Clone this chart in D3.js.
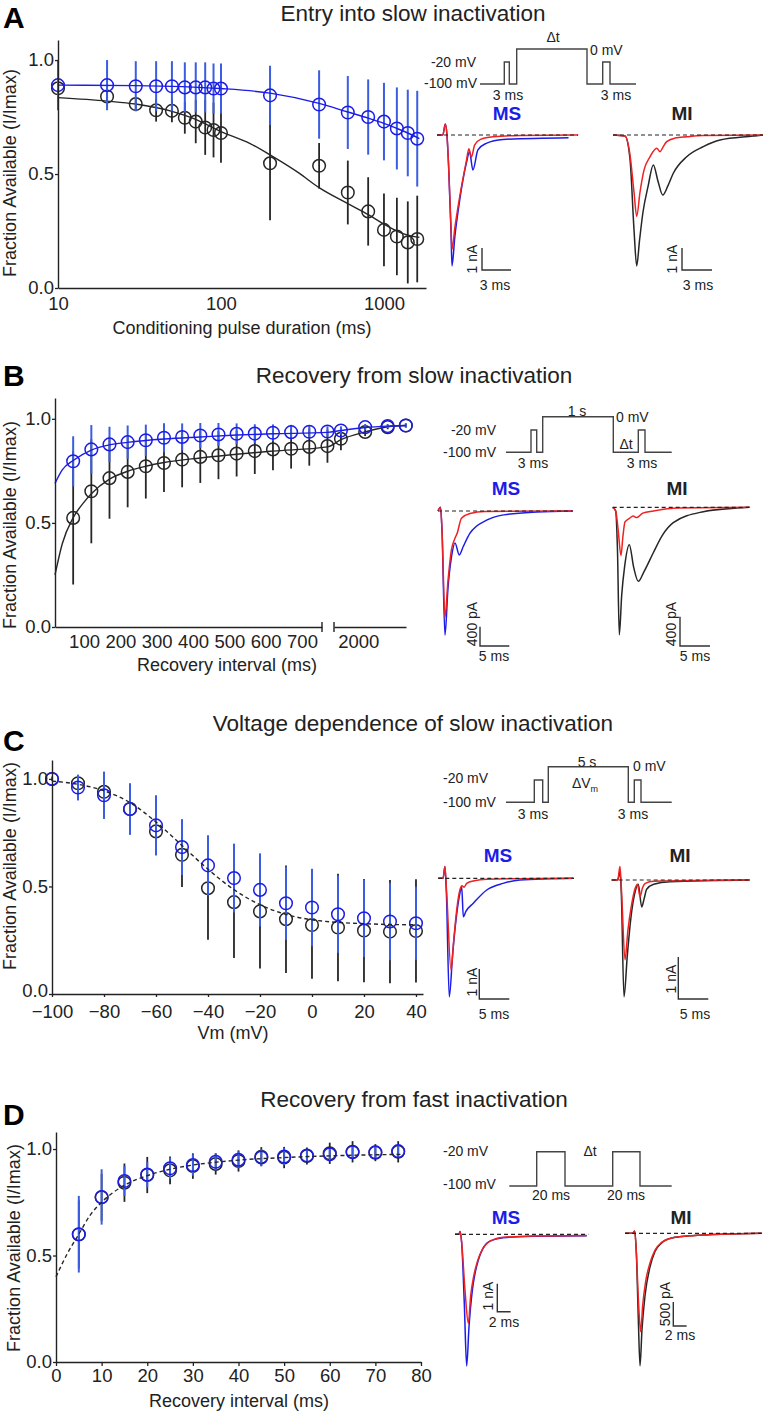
<!DOCTYPE html>
<html>
<head>
<meta charset="utf-8">
<script src="https://cdn.jsdelivr.net/npm/d3@7"></script>
<style>
body { margin: 0; background: #fff; }
svg { display: block; font-family: "Liberation Sans", Arial, sans-serif; }
</style>
</head>
<body>
<svg id="fig" width="766" height="1415"></svg>
<script>
// ---------- data ----------
// A: entry into slow inactivation
var aDur = [10, 20, 30, 40, 50, 60, 70, 80, 90, 100, 200, 400, 600, 800, 1000, 1200, 1400, 1600];
var aMS = [0.89, 0.89, 0.885, 0.885, 0.885, 0.88, 0.88, 0.88, 0.875, 0.875, 0.845, 0.805, 0.77, 0.75, 0.73, 0.70, 0.68, 0.655];
var aMSerr = [0.11, 0.11, 0.11, 0.11, 0.11, 0.11, 0.11, 0.11, 0.11, 0.11, 0.13, 0.15, 0.16, 0.165, 0.17, 0.18, 0.19, 0.21];
var aMI = [0.876, 0.84, 0.807, 0.78, 0.777, 0.747, 0.73, 0.704, 0.693, 0.68, 0.547, 0.536, 0.419, 0.336, 0.255, 0.226, 0.20, 0.215];
var aMIerr = [0.01, 0.02, 0.03, 0.05, 0.05, 0.07, 0.095, 0.12, 0.12, 0.13, 0.25, 0.1, 0.14, 0.15, 0.16, 0.17, 0.18, 0.19];
var aFitMS = [[10, 0.89], [30, 0.888], [100, 0.875], [200, 0.855], [400, 0.81], [600, 0.772], [800, 0.745], [1000, 0.722], [1200, 0.70], [1400, 0.68], [1650, 0.655]];
var aFitMI = [[10, 0.835], [20, 0.82], [30, 0.807], [50, 0.775], [70, 0.74], [100, 0.686], [150, 0.635], [200, 0.584], [300, 0.505], [400, 0.44], [600, 0.37], [800, 0.322], [1000, 0.28], [1200, 0.25], [1400, 0.232], [1650, 0.222]];

// B: recovery from slow inactivation
var bInt = [70, 120, 170, 220, 270, 320, 370, 420, 470, 520, 570, 620, 670, 720, 770, 1000, 2400, 3700, 4750];
var bMS = [0.796, 0.853, 0.877, 0.888, 0.897, 0.909, 0.913, 0.92, 0.925, 0.928, 0.929, 0.933, 0.936, 0.938, 0.939, 0.944, 0.96, 0.965, 0.968];
var bMSerr = [0.12, 0.117, 0.085, 0.08, 0.075, 0.07, 0.065, 0.06, 0.055, 0.05, 0.045, 0.04, 0.035, 0.03, 0.025, 0.02, 0.015, 0.01, 0.01];
var bMI = [0.524, 0.652, 0.715, 0.745, 0.772, 0.788, 0.804, 0.817, 0.825, 0.833, 0.845, 0.853, 0.856, 0.865, 0.869, 0.904, 0.937, 0.96, 0.968];
var bMIerr = [0.32, 0.25, 0.195, 0.17, 0.155, 0.14, 0.133, 0.125, 0.115, 0.11, 0.11, 0.1, 0.095, 0.09, 0.08, 0.055, 0.02, 0.01, 0.01];
var bFitMS = [[20, 0.69], [40, 0.755], [70, 0.80], [120, 0.85], [170, 0.875], [220, 0.887], [320, 0.903], [420, 0.913], [520, 0.922], [620, 0.928], [770, 0.935], [1000, 0.944], [2400, 0.958], [3700, 0.965], [4760, 0.968]];
var bFitMI = [[20, 0.25], [40, 0.40], [70, 0.525], [100, 0.60], [120, 0.64], [170, 0.71], [220, 0.748], [270, 0.772], [320, 0.79], [420, 0.812], [520, 0.83], [620, 0.845], [770, 0.865], [1000, 0.90], [2400, 0.937], [3700, 0.962], [4760, 0.968]];
var bTicks1 = [100, 200, 300, 400, 500, 600, 700];
var bTicks2 = [2000];

// C: voltage dependence of slow inactivation
var cVm = [-100, -90, -80, -70, -60, -50, -40, -30, -20, -10, 0, 10, 20, 30, 40];
var cMS = [1.0, 0.96, 0.924, 0.86, 0.784, 0.683, 0.598, 0.539, 0.484, 0.422, 0.402, 0.371, 0.352, 0.337, 0.329];
var cMSerr = [0.01, 0.06, 0.11, 0.12, 0.14, 0.13, 0.14, 0.16, 0.17, 0.17, 0.18, 0.18, 0.18, 0.18, 0.17];
var cMI = [1.0, 0.98, 0.94, 0.86, 0.756, 0.647, 0.492, 0.427, 0.384, 0.348, 0.321, 0.309, 0.295, 0.29, 0.293];
var cMIerr = [0.01, 0.03, 0.03, 0.03, 0.05, 0.15, 0.24, 0.26, 0.265, 0.25, 0.25, 0.25, 0.24, 0.24, 0.24];
var cFit = [[-100, 0.99], [-90, 0.975], [-80, 0.945], [-70, 0.89], [-60, 0.80], [-50, 0.69], [-40, 0.58], [-30, 0.485], [-20, 0.415], [-10, 0.37], [0, 0.345], [10, 0.333], [20, 0.327], [30, 0.323], [40, 0.322]];
var cTicks = [-100, -80, -60, -40, -20, 0, 20, 40];

// D: recovery from fast inactivation
var dInt = [5, 10, 15, 20, 25, 30, 35, 40, 45, 50, 55, 60, 65, 70, 75];
var dMS = [0.60, 0.775, 0.85, 0.88, 0.91, 0.925, 0.94, 0.95, 0.96, 0.965, 0.97, 0.975, 0.985, 0.985, 0.99];
var dMSerr = [0.18, 0.13, 0.07, 0.06, 0.05, 0.05, 0.04, 0.04, 0.04, 0.04, 0.03, 0.03, 0.03, 0.03, 0.03];
var dMI = [0.599, 0.773, 0.842, 0.878, 0.90, 0.92, 0.93, 0.944, 0.964, 0.96, 0.967, 0.98, 0.987, 0.983, 0.987];
var dMIerr = [0.16, 0.11, 0.09, 0.085, 0.065, 0.06, 0.05, 0.05, 0.045, 0.05, 0.04, 0.05, 0.05, 0.04, 0.05];
var dFit = [[0, 0.40], [2.5, 0.51], [5, 0.60], [7.5, 0.69], [10, 0.75], [15, 0.83], [20, 0.875], [25, 0.905], [30, 0.925], [35, 0.938], [40, 0.948], [50, 0.96], [60, 0.968], [70, 0.973], [76, 0.975]];
var dTicks = [0, 10, 20, 30, 40, 50, 60, 70, 80];

// voltage protocols (schematic step durations and levels in mV)
var protoAdur = [24.3, 5, 7.4, 70.3, 15.7, 7.3, 26];
var protoBdur = [25, 5.7, 6, 70.6, 25, 6.7, 26.7];
var protoCdur = [28.3, 8.4, 5.6, 80, 6, 6.7, 30.7];
var protoSlowLvl = [-100, -20, -100, 0, -100, -20, -100];
var protoDdur = [27.4, 28.3, 47.7, 27.3, 31.7];
var protoDlvl = [-100, -20, -100, -20, -100];

// example current traces, [time ms, current nA]
var trA_MS_blue = [[0, 0], [0.6, 0], [0.86, 0.5], [1.03, 0], [1.2, -1.4], [1.45, -4.4], [1.55, -5.95], [1.85, -4.6], [2.35, -2.95], [3.03, -1.29], [3.37, -0.76], [3.71, -1.59], [4.23, -0.68], [5.09, -0.38], [6.82, -0.2], [13.6, -0.12]];
var trA_MS_red = [[0, 0], [0.6, 0], [0.86, 0.5], [1.03, 0], [1.2, -1.4], [1.45, -4.2], [1.55, -5.2], [1.85, -4.2], [2.35, -2.8], [3.03, -1.2], [3.3, -0.62], [3.55, -1.0], [3.9, -0.45], [4.5, -0.2], [5.8, -0.08], [8.6, -0.02], [14.6, 0]];
var trA_MI_black = [[0, 0], [1.2, -0.05], [1.7, -1.1], [2.1, -4.3], [2.37, -5.95], [2.65, -4.8], [3.0, -3.5], [3.5, -2.35], [4.03, -1.36], [4.5, -2.1], [4.97, -2.73], [5.5, -2.3], [6.03, -1.74], [7.37, -0.99], [9.03, -0.53], [10.7, -0.23], [14.03, -0.05], [15, 0]];
var trA_MI_red = [[0, 0], [1.2, -0.05], [1.7, -0.9], [2.1, -2.6], [2.37, -3.7], [2.7, -2.6], [3.1, -1.6], [3.7, -0.99], [4.37, -0.6], [4.7, -0.76], [5.0, -0.55], [5.37, -0.3], [6.2, -0.14], [7.37, -0.08], [9, -0.02], [15, 0]];
var trB_MS_blue = [[0, 0], [0.43, 0.08], [0.68, -0.39], [1.19, -2.57], [1.7, -1.6], [2.3, -0.95], [2.9, -0.66], [3.63, -0.91], [4.33, -0.73], [5.46, -0.46], [8.3, -0.19], [11.2, -0.08], [16.9, -0.02], [23, 0]];
var trB_MS_red = [[0, 0], [0.43, 0.08], [0.68, -0.39], [1.19, -2.2], [1.7, -1.45], [2.3, -0.8], [2.78, -0.6], [3.3, -0.45], [4.0, -0.15], [5.46, -0.05], [8, -0.01], [23, 0]];
var trB_MI_black = [[0, 0], [0.5, -0.05], [0.8, -0.6], [1.1, -1.74], [1.5, -1.2], [2.0, -0.8], [2.77, -0.51], [3.5, -0.82], [4.27, -1.01], [5.2, -0.88], [6.77, -0.62], [8.3, -0.38], [10.1, -0.21], [15.1, -0.06], [20.7, -0.01], [22.8, 0]];
var trB_MI_red = [[0, 0], [0.5, -0.05], [0.9, -0.3], [1.38, -0.66], [1.7, -0.4], [2.05, -0.2], [2.8, -0.15], [3.4, -0.12], [4.0, -0.14], [5.0, -0.08], [6.77, -0.05], [11, -0.01], [22.8, 0]];
var trC_MS_blue = [[0, 0], [0.8, 0], [1.1, 0.39], [1.35, -0.5], [1.83, -3.95], [2.4, -2.5], [3.0, -1.3], [3.6, -0.5], [3.9, -0.28], [4.17, -1.28], [4.6, -1.1], [5.83, -0.83], [8.07, -0.39], [10.8, -0.17], [13.6, -0.06], [22.5, 0]];
var trC_MS_red = [[0, 0], [0.8, 0], [1.1, 0.39], [1.4, -0.5], [2.12, -3.06], [2.6, -2.0], [3.1, -1.0], [3.6, -0.39], [3.95, -0.25], [4.3, -0.3], [4.73, -0.17], [6, -0.08], [8.07, -0.03], [22.5, 0]];
var trC_MI_black = [[0, 0], [1.0, 0], [1.38, 0.2], [1.6, -0.3], [2.05, -2.78], [2.6, -1.8], [3.2, -0.9], [3.8, -0.35], [4.43, -0.1], [5.0, -0.64], [5.4, -0.45], [5.83, -0.22], [7, -0.1], [9.7, -0.04], [23, 0]];
var trC_MI_red = [[0, 0], [1.0, 0], [1.38, 0.32], [1.65, -0.3], [2.22, -1.9], [2.7, -1.2], [3.3, -0.6], [3.9, -0.2], [4.3, -0.1], [4.72, -0.4], [5.1, -0.2], [5.6, -0.08], [7, -0.03], [23, 0]];
var trD_MS_blue = [[0, 0], [0.6, 0], [0.75, 0.1], [1.0, -0.3], [1.4, -2.5], [1.75, -4.7], [2.1, -3.3], [2.6, -2.0], [3.0, -1.4], [3.5, -0.92], [4.1, -0.55], [4.75, -0.32], [6, -0.18], [7.75, -0.11], [12, -0.07], [19.75, -0.05]];
var trD_MS_red = [[0, 0], [0.6, 0], [0.75, 0.1], [1.0, -0.3], [1.5, -2.0], [2.0, -3.18], [2.35, -2.2], [2.8, -1.5], [3.2, -1.1], [3.6, -0.8], [4.2, -0.5], [4.9, -0.3], [6, -0.17], [7.75, -0.1], [12, -0.06], [19.75, -0.04]];
var trD_MI_black = [[0, 0], [1.2, 0], [1.45, 0.05], [1.7, -0.4], [2.0, -1.8], [2.25, -2.76], [2.55, -2.0], [3.0, -1.3], [3.75, -0.7], [4.5, -0.38], [5.5, -0.2], [7, -0.1], [10, -0.05], [20.5, 0]];
var trD_MI_red = [[0, 0], [1.2, 0], [1.45, 0.05], [1.7, -0.4], [2.05, -1.5], [2.35, -2.05], [2.65, -1.5], [3.1, -1.0], [3.75, -0.62], [4.5, -0.35], [5.5, -0.19], [7, -0.1], [10, -0.05], [20.5, 0]];

// ---------- drawing ----------
var BLUE = "#1c1ce8", BLUEBAR = "#3a5de2", BLK = "#262626", RED = "#ee2222";
var svg = d3.select("#fig");

function txt(x, y, s, size, anchor, weight, fill) {
  return svg.append("text").attr("x", x).attr("y", y).text(s)
    .attr("font-size", size).attr("text-anchor", anchor || "start")
    .attr("font-weight", weight || "normal").attr("fill", fill || "#222");
}
function vtxt(x, y, s, size) {
  return svg.append("text").attr("transform", "translate(" + x + "," + y + ") rotate(-90)")
    .attr("text-anchor", "middle").attr("dominant-baseline", "central")
    .attr("font-size", size).attr("fill", "#222").text(s);
}
function styleAxis(ax, fs) {
  ax.attr("font-family", null).attr("font-size", null);
  ax.select(".domain").attr("stroke", "#222").attr("stroke-width", 1.4);
  ax.selectAll(".tick line").attr("stroke", "#222").attr("stroke-width", 1.3);
  ax.selectAll("text").attr("fill", "#222").style("font-size", fs || "18.5px");
}
function yAxis(y, x0) {
  var ax = svg.append("g").attr("transform", "translate(" + x0 + ",0)")
    .call(d3.axisLeft(y).tickValues([0, 0.5, 1]).tickFormat(d3.format(".1f"))
      .tickSizeInner(3).tickSizeOuter(0).tickPadding(1));
  styleAxis(ax);
  return ax;
}
function series(xf, y, xs, ys, es, col, barCol, bw) {
  svg.append("g").selectAll("line").data(xs).enter().append("line")
    .attr("x1", function(d) { return xf(d); }).attr("x2", function(d) { return xf(d); })
    .attr("y1", function(d, i) { return y(ys[i] - es[i]); })
    .attr("y2", function(d, i) { return y(ys[i] + es[i]); })
    .attr("stroke", barCol).attr("stroke-width", bw || 2);
  svg.append("g").selectAll("circle").data(xs).enter().append("circle")
    .attr("cx", function(d) { return xf(d); }).attr("cy", function(d, i) { return y(ys[i]); })
    .attr("r", 6.3).attr("fill", "none").attr("stroke", col).attr("stroke-width", 1.5);
}
function fit(xf, y, pts, col, dash) {
  svg.append("path").datum(pts)
    .attr("d", d3.line().x(function(d) { return xf(d[0]); }).y(function(d) { return y(d[1]); }).curve(d3.curveMonotoneX))
    .attr("fill", "none").attr("stroke", col).attr("stroke-width", 1.4)
    .attr("stroke-dasharray", dash || null);
}
function protocol(dur, lvl, xr, yr) {
  var x = d3.scaleLinear().domain([0, d3.sum(dur)]).range(xr);
  var y = d3.scaleOrdinal().domain([-100, -20, 0]).range(yr);
  var pts = [], t = 0;
  dur.forEach(function(d, i) { pts.push([t, lvl[i]]); t += d; pts.push([t, lvl[i]]); });
  svg.append("path").attr("d", d3.line().x(function(p) { return x(p[0]); }).y(function(p) { return y(p[1]); })(pts))
    .attr("fill", "none").attr("stroke", "#444").attr("stroke-width", 1.4);
}
function frameScales(f) {
  return {
    x: d3.scaleLinear().domain([0, 1]).range([f.x0, f.x0 + f.pxMs]),
    y: d3.scaleLinear().domain([0, -1]).range([f.y0, f.y0 + f.pxNA])
  };
}
function trace(f, pts, col) {
  var s = frameScales(f);
  svg.append("path").datum(pts)
    .attr("d", d3.line().x(function(p) { return s.x(p[0]); }).y(function(p) { return s.y(p[1]); }).curve(d3.curveMonotoneX))
    .attr("fill", "none").attr("stroke", col).attr("stroke-width", 1.5);
}
function baseline(f) {
  svg.append("line").attr("x1", f.x0).attr("x2", f.end).attr("y1", f.y0).attr("y2", f.y0)
    .attr("stroke", "#222").attr("stroke-width", 1.2).attr("stroke-dasharray", "4,3");
}
function scaleBar(f, bx, by, ms, nA, vlab, vx, vy, hlab, hx, hy) {
  svg.append("path")
    .attr("d", "M" + bx + "," + (by - f.pxNA * nA) + "V" + by + "H" + (bx + f.pxMs * ms))
    .attr("fill", "none").attr("stroke", "#333").attr("stroke-width", 1.4);
  vtxt(vx, vy, vlab, "14px");
  txt(hx, hy, hlab, "14px", "middle");
}

// ===== Panel A =====
txt(3, 28, "A", "30px", "start", "bold", "#000");
txt(413, 21, "Entry into slow inactivation", "22.5px", "middle");
var xA = d3.scaleLog().domain([10, 1811]).range([58, 426]);
var yA = d3.scaleLinear().domain([0, 1.088]).range([288, 40]);
series(xA, yA, aDur, aMI, aMIerr, BLK, BLK, 1.8);
fit(xA, yA, aFitMI, BLK);
series(xA, yA, aDur, aMS, aMSerr, BLUE, BLUEBAR, 2);
fit(xA, yA, aFitMS, BLUE);
var axA = svg.append("g").attr("transform", "translate(0,288)")
  .call(d3.axisBottom(xA).tickValues([10, 100, 1000]).tickFormat(d3.format("d")).tickSize(0).tickPadding(9));
styleAxis(axA);
yAxis(yA, 58);
vtxt(10, 173, "Fraction Available (I/Imax)", "18px");
txt(242, 334, "Conditioning pulse duration (ms)", "18px", "middle");

protocol(protoAdur, protoSlowLvl, [480, 636], [84, 62, 49]);
txt(476, 67, "-20 mV", "14px", "end");
txt(477, 88, "-100 mV", "14px", "end");
txt(553, 42, "\u0394t", "14px", "middle");
txt(590, 55, "0 mV", "14px");
txt(508, 100, "3 ms", "14px", "middle");
txt(616, 100, "3 ms", "14px", "middle");
txt(507, 120, "MS", "19px", "middle", "bold", BLUE);
txt(682, 120, "MI", "19px", "middle", "bold", "#222");
var fAMS = { x0: 437, y0: 135, pxMs: 9.67, pxNA: 22, end: 578 };
var fAMI = { x0: 613, y0: 135, pxMs: 10, pxNA: 22, end: 763 };
trace(fAMS, trA_MS_blue, BLUE); trace(fAMS, trA_MS_red, RED); baseline(fAMS);
trace(fAMI, trA_MI_black, BLK); trace(fAMI, trA_MI_red, RED); baseline(fAMI);
scaleBar(fAMS, 482, 270, 3, 1, "1 nA", 472, 259, "3 ms", 495, 290);
scaleBar(fAMI, 682, 270, 3, 1, "1 nA", 672, 259, "3 ms", 698, 290);

// ===== Panel B =====
txt(3, 386, "B", "30px", "start", "bold", "#000");
txt(414, 383, "Recovery from slow inactivation", "22.5px", "middle");
var xB1 = d3.scaleLinear().domain([20, 755]).range([55, 322]);
var xB2 = d3.scaleLinear().domain([600, 4760]).range([334, 406]);
function xB(v) { return v <= 770 ? xB1(v) : xB2(v); }
var yB = d3.scaleLinear().domain([0, 1.10]).range([627, 398]);
series(xB, yB, bInt, bMI, bMIerr, BLK, BLK, 1.8);
fit(xB, yB, bFitMI, BLK);
series(xB, yB, bInt, bMS, bMSerr, BLUE, BLUEBAR, 2);
fit(xB, yB, bFitMS, BLUE);
var axB1 = svg.append("g").attr("transform", "translate(0,627)")
  .call(d3.axisBottom(xB1).tickValues(bTicks1).tickFormat(d3.format("d")).tickSize(0).tickPadding(8));
styleAxis(axB1);
var axB2 = svg.append("g").attr("transform", "translate(0,627)")
  .call(d3.axisBottom(xB2).tickValues(bTicks2).tickFormat(d3.format("d")).tickSize(0).tickPadding(8));
styleAxis(axB2);
[xB1.range()[1], xB2.range()[0]].forEach(function(bx) {
  svg.append("line").attr("x1", bx).attr("x2", bx).attr("y1", 622).attr("y2", 632)
    .attr("stroke", "#222").attr("stroke-width", 1.4);
});
yAxis(yB, 55);
vtxt(10, 525, "Fraction Available (I/Imax)", "18px");
txt(227, 671, "Recovery interval (ms)", "18px", "middle");

protocol(protoBdur, protoSlowLvl, [506, 671.7], [452.3, 430, 416.7]);
txt(496, 435, "-20 mV", "14px", "end");
txt(496, 457, "-100 mV", "14px", "end");
txt(577, 416, "1 s", "14px", "middle");
txt(616, 422, "0 mV", "14px");
txt(626, 449, "\u0394t", "14px", "middle");
txt(533, 468, "3 ms", "14px", "middle");
txt(642, 468, "3 ms", "14px", "middle");
txt(506, 495, "MS", "19px", "middle", "bold", BLUE);
txt(677, 495, "MI", "19px", "middle", "bold", "#222");
var fBMS = { x0: 438, y0: 511, pxMs: 5.86, pxNA: 48.3, end: 572.7 };
var fBMI = { x0: 612.7, y0: 507.3, pxMs: 6, pxNA: 73.3, end: 749.3 };
trace(fBMS, trB_MS_blue, BLUE); trace(fBMS, trB_MS_red, RED); baseline(fBMS);
trace(fBMI, trB_MI_black, BLK); trace(fBMI, trB_MI_red, RED); baseline(fBMI);
scaleBar(fBMS, 480, 646, 5, 0.4, "400 pA", 471.7, 624, "5 ms", 494, 661);
scaleBar(fBMI, 680, 646, 5, 0.4, "400 pA", 671, 624, "5 ms", 695, 661);

// ===== Panel C =====
txt(3, 751, "C", "30px", "start", "bold", "#000");
txt(413, 731, "Voltage dependence of slow inactivation", "22.5px", "middle");
var xC = d3.scaleLinear().domain([-100, 42.7]).range([52, 423]);
var yC = d3.scaleLinear().domain([0, 1.088]).range([994, 760]);
series(xC, yC, cVm, cMI, cMIerr, BLK, BLK, 1.8);
series(xC, yC, cVm, cMS, cMSerr, BLUE, BLUEBAR, 2);
fit(xC, yC, cFit, BLK, "4,3");
var axC = svg.append("g").attr("transform", "translate(0,994)")
  .call(d3.axisBottom(xC).tickValues(cTicks).tickFormat(d3.format("d")).tickSizeInner(3).tickSizeOuter(0).tickPadding(8));
styleAxis(axC);
var ayC = yAxis(yC, 52);
// the 0.0 label sits a little higher here so it clears the -100 label below it
ayC.selectAll(".tick text").filter(function(d) { return d === 0; }).attr("dy", "0.12em");
vtxt(10, 866, "Fraction Available (I/Imax)", "18px");
txt(233, 1039, "Vm (mV)", "18px", "middle");

protocol(protoCdur, protoSlowLvl, [506, 671.7], [802.3, 780, 766.7]);
txt(443, 783, "-20 mV", "14px");
txt(443, 807, "-100 mV", "14px");
txt(587, 767, "5 s", "14px", "middle");
var dv = txt(585, 788, "\u0394V", "14px", "middle");
dv.append("tspan").attr("font-size", "9px").attr("dy", 4).text("m");
txt(633, 771, "0 mV", "14px");
txt(533, 819, "3 ms", "14px", "middle");
txt(633, 819, "3 ms", "14px", "middle");
txt(498, 862, "MS", "19px", "middle", "bold", BLUE);
txt(680, 862, "MI", "19px", "middle", "bold", "#222");
var fCMS = { x0: 438.3, y0: 878.3, pxMs: 6, pxNA: 30, end: 574 };
var fCMI = { x0: 611.7, y0: 880, pxMs: 6, pxNA: 42, end: 750 };
trace(fCMS, trC_MS_blue, BLUE); trace(fCMS, trC_MS_red, RED); baseline(fCMS);
trace(fCMI, trC_MI_black, BLK); trace(fCMI, trC_MI_red, RED); baseline(fCMI);
scaleBar(fCMS, 479.3, 999, 5, 1, "1 nA", 472, 982, "5 ms", 494, 1019);
scaleBar(fCMI, 678.3, 999, 5, 1, "1 nA", 670.7, 979, "5 ms", 695, 1019);

// ===== Panel D =====
txt(3, 1125, "D", "30px", "start", "bold", "#000");
txt(414, 1107, "Recovery from fast inactivation", "22.5px", "middle");
var xD = d3.scaleLinear().domain([0, 80]).range([56, 421]);
var yD = d3.scaleLinear().domain([0, 1.08]).range([1362, 1132]);
series(xD, yD, dInt, dMI, dMIerr, BLK, BLK, 1.8);
series(xD, yD, dInt, dMS, dMSerr, BLUE, BLUEBAR, 2);
fit(xD, yD, dFit, BLK, "4,3");
var axD = svg.append("g").attr("transform", "translate(0,1362)")
  .call(d3.axisBottom(xD).tickValues(dTicks).tickFormat(d3.format("d")).tickSizeInner(4).tickSizeOuter(0).tickPadding(3));
styleAxis(axD);
yAxis(yD, 56);
vtxt(14, 1248, "Fraction Available (I/Imax)", "18px");
txt(239, 1407, "Recovery interval (ms)", "18px", "middle");

protocol(protoDdur, protoDlvl, [509.3, 671.7], [1186, 1151.7, 1151.7]);
txt(443, 1156, "-20 mV", "14px");
txt(443, 1189, "-100 mV", "14px");
txt(590, 1156, "\u0394t", "14px", "middle");
txt(551, 1200, "20 ms", "14px", "middle");
txt(626, 1200, "20 ms", "14px", "middle");
txt(506, 1224, "MS", "19px", "middle", "bold", BLUE);
txt(681, 1224, "MI", "19px", "middle", "bold", "#222");
var fDMS = { x0: 455, y0: 1234.3, pxMs: 6.67, pxNA: 28, end: 588.3 };
var fDMI = { x0: 625, y0: 1233.3, pxMs: 6.67, pxNA: 48, end: 761.7 };
trace(fDMS, trD_MS_blue, BLUE); trace(fDMS, trD_MS_red, RED); baseline(fDMS);
trace(fDMI, trD_MI_black, BLK); trace(fDMI, trD_MI_red, RED); baseline(fDMI);
scaleBar(fDMS, 497.3, 1311.7, 2, 1, "1 nA", 488.3, 1296, "2 ms", 504, 1327);
scaleBar(fDMI, 673.3, 1326, 2, 0.5, "500 pA", 665, 1304, "2 ms", 680, 1340);
</script>
</body>
</html>
